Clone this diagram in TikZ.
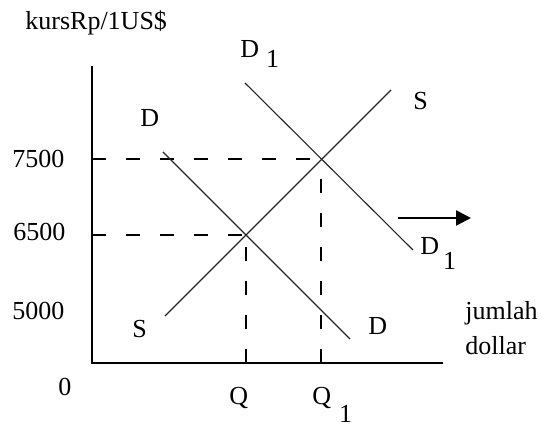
\documentclass[tikz,border=0pt]{standalone}
\usepackage{fontspec}
\setmainfont{Liberation Serif}
\usetikzlibrary{arrows.meta}

\begin{document}
\begin{tikzpicture}[
  x=0.5pt, y=-0.5pt,
  font=\fontsize{13}{17.5}\selectfont,
  >=Triangle,
  every node/.style={inner sep=0pt, anchor=base west},
  % Axes, curves and guides
  axis/.style={line width=1pt},
  curve/.style={line width=0.55pt, draw=black!85},
  guide/.style={line width=1pt, dash pattern=on 7pt off 10pt},
  % Shift arrow
  shiftarr/.style={->, line width=1.2pt, >={Triangle[length=7.5pt,width=7.5pt]}},
]
\useasboundingbox (0,0) rectangle (542,426);

% -------------------------------------------------------
% Axes
% -------------------------------------------------------
\coordinate (ytop)   at (92,66);
\coordinate (origin) at (92,363);
\coordinate (xend)   at (443,363);
\draw[axis] (ytop) -- (origin) -- (xend);

\node (ylab)  at (25,30)   {kursRp/1US\$};
\node (xlab)  at (465,355) [align=left] {jumlah\\dollar};
\node (zero)  at (58,396)  {0};

% -------------------------------------------------------
% Equilibria and guide lines
% -------------------------------------------------------
\coordinate (e0)    at (246,235);   % D x S
\coordinate (e1)    at (321,159);   % D1 x S
\coordinate (y6500) at (92,235);
\coordinate (y7500) at (92,159);
\coordinate (xq)    at (246,363);
\coordinate (xq1)   at (321,363);

\draw[guide] (y7500) -- (e1);
\draw[guide] (xq1) -- (e1);
\draw[guide] (y6500) -- (e0);
\draw[guide] (xq) -- (e0);

\node (v7500) at (12,168) {7500};
\node (v6500) at (13,241) {6500};
\node (v5000) at (12,320) {5000};
\node (q)     at (229,405) {Q};
\node (q1)    at (312,405) {Q\hspace{4pt}\raisebox{-9pt}{1}};

% -------------------------------------------------------
% Curves
% -------------------------------------------------------
\coordinate (d-a)  at (163,152);
\coordinate (d-b)  at (350,339);
\coordinate (d1-a) at (245,83);
\coordinate (d1-b) at (413,250);
\coordinate (s-a)  at (165,316);
\coordinate (s-b)  at (391,90);

\draw[curve] (d-a) -- (d-b);
\draw[curve] (d1-a) -- (d1-b);
\draw[curve] (s-a) -- (s-b);

\node (dtop)  at (140,127) {D};
\node (dbot)  at (368,335) {D};
\node (d1top) at (240,58)  {D\hspace{3.5pt}\raisebox{-5pt}{1}};
\node (d1bot) at (420,255) {D\hspace{2pt}\raisebox{-7.5pt}{1}};
\node (stop)  at (413,110) {S};
\node (sbot)  at (132,338) {S};

% -------------------------------------------------------
% Shift of demand
% -------------------------------------------------------
\coordinate (sh-a) at (398,218);
\coordinate (sh-b) at (471,218);
\draw[shiftarr] (sh-a) -- (sh-b);

\end{tikzpicture}
\end{document}
